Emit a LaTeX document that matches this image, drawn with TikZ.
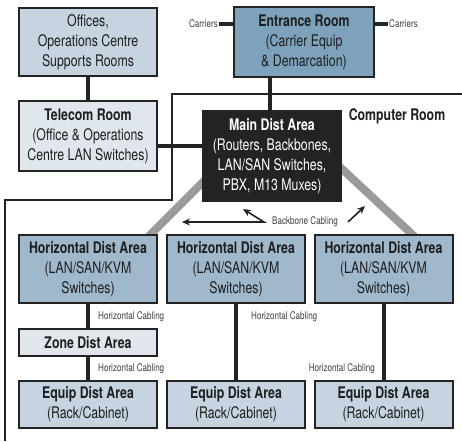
\documentclass[tikz,border=0pt]{standalone}
\usepackage{fontspec}
\setmainfont[FakeStretch=0.77]{TeX Gyre Heros}
\usetikzlibrary{positioning,calc,arrows.meta,backgrounds}
\definecolor{boxline}{HTML}{232323}
\definecolor{boxtext}{HTML}{1E1E1E}
\definecolor{lightfill}{HTML}{DFE6EE}
\definecolor{palefill}{HTML}{C6D4E1}
\definecolor{midfill}{HTML}{A0B8CB}
\definecolor{darkfill}{HTML}{7EA2BB}
\definecolor{cablegray}{HTML}{9A9A9A}
\definecolor{labelgray}{HTML}{3C3C3C}
\tikzset{
  room/.style={draw=boxline, line width=2pt, align=center, text=boxtext, inner sep=0pt,
    minimum width=138pt, font=\fontsize{16}{20}\selectfont},
  cable/.style={line width=4pt, boxline},
  backbone/.style={line width=8pt, cablegray},
  wall/.style={line width=1.8pt, boxline},
  cablelabel/.style={text=labelgray, inner sep=1pt, font=\fontsize{10.5}{12}\selectfont},
  bbarrow/.style={line width=1.6pt, boxline, arrows={-{Stealth[length=8pt,width=7pt]}}}
}

\begin{document}
\begin{tikzpicture}[x=1pt, y=-1pt]
    \useasboundingbox (0,0) rectangle (462,441);

    % Rooms outside the computer room
    \node[room, fill=palefill, minimum height=68pt] (offices) at (88,42) {Offices,\\Operations Centre\\Supports Rooms};
    \node[room, fill=lightfill, minimum height=70pt] (telecom) at (88,136) {\textbf{Telecom Room}\\(Office \& Operations\\Centre LAN Switches)};
    \node[room, fill=darkfill, minimum width=140pt, minimum height=70pt] (entrance) at (304,42) {\textbf{Entrance Room}\\(Carrier Equip\\\& Demarcation)};

    % Carriers
    \coordinate (carL) at (219,24);
    \coordinate (carR) at (388,24);
    \node[cablelabel, anchor=east] (carLtext) at (carL) {Carriers};
    \node[cablelabel, anchor=west] (carRtext) at (carR) {Carriers};
    \draw[cable] (carL) -- (carL -| entrance.west);
    \draw[cable] (carR) -- (carR -| entrance.east);

    % Computer room wall
    \draw[wall] (462,94) -- (172,94) -- (172,200) -- (5,200) -- (5,441);
    \node[font=\fontsize{16}{20}\selectfont\bfseries, text=boxtext] (compRoom) at (397,116) {Computer Room};

    % Main distribution area
    \node[room, fill=boxline, text=white, minimum height=90pt] (mda) at (272,156) {\textbf{Main Dist Area}\\(Routers, Backbones,\\LAN/SAN Switches,\\PBX, M13 Muxes)};

    % Horizontal and equipment distribution areas
    \foreach \col/\xc in {1/88, 2/236, 3/383.5} {
        \node[room, fill=midfill, minimum height=68pt] (hda\col) at (\xc,269) {\textbf{Horizontal Dist Area}\\(LAN/SAN/KVM\\Switches)};
        \node[room, fill=palefill, minimum height=47pt] (eda\col) at (\xc,404.5) {\textbf{Equip Dist Area}\\(Rack/Cabinet)};
    }
    \node[room, fill=lightfill, minimum height=27pt] (zone) at (88,342.5) {\textbf{Zone Dist Area}};

    % Backbone cabling behind the boxes
    \begin{scope}[on background layer]
        \draw[backbone] ($(mda.south west)+(17,-36)$) -- ($(hda1.north east)+(-12,5)$);
        \draw[backbone] ($(mda.south east)+(-16,-48)$) -- ($(hda3.north)+(31.5,3)$);
    \end{scope}

    % Copper connections
    \draw[cable] (offices) -- (telecom);
    \draw[cable] (telecom.east |- mda.west) ++(0,-10) coordinate (tl) -- (tl -| mda.west);
    \draw[cable] ($(mda.north |- entrance.south)+(-2,0)$) coordinate (en) -- (en |- mda.north);
    \draw[cable] (hda1) -- (zone);
    \draw[cable] (zone) -- (eda1);
    \draw[cable] (hda2) -- (eda2);
    \draw[cable] (hda3) -- (eda3);

    % Labels
    \node[cablelabel, anchor=west] (hc1) at (97,317) {Horizontal Cabling};
    \node[cablelabel, anchor=west] (hc2) at (97,369) {Horizontal Cabling};
    \node[cablelabel, anchor=west] (hc3) at (250,317) {Horizontal Cabling};
    \node[cablelabel, anchor=east] (hc4) at (376,369) {Horizontal Cabling};

    \node[cablelabel] (bbLabel) at (305,222) {Backbone Cabling};
    \coordinate (bbMid) at ($(bbLabel.west)+(-7,0)$);
    \draw[bbarrow, arrows={{Stealth[length=8pt,width=7pt]}-{Stealth[length=8pt,width=7pt]}}] (243,209) -- (bbMid) -- (182,222);
    \draw[bbarrow] ($(bbLabel.east)+(9,0)$) -- (365,206);
\end{tikzpicture}
\end{document}
